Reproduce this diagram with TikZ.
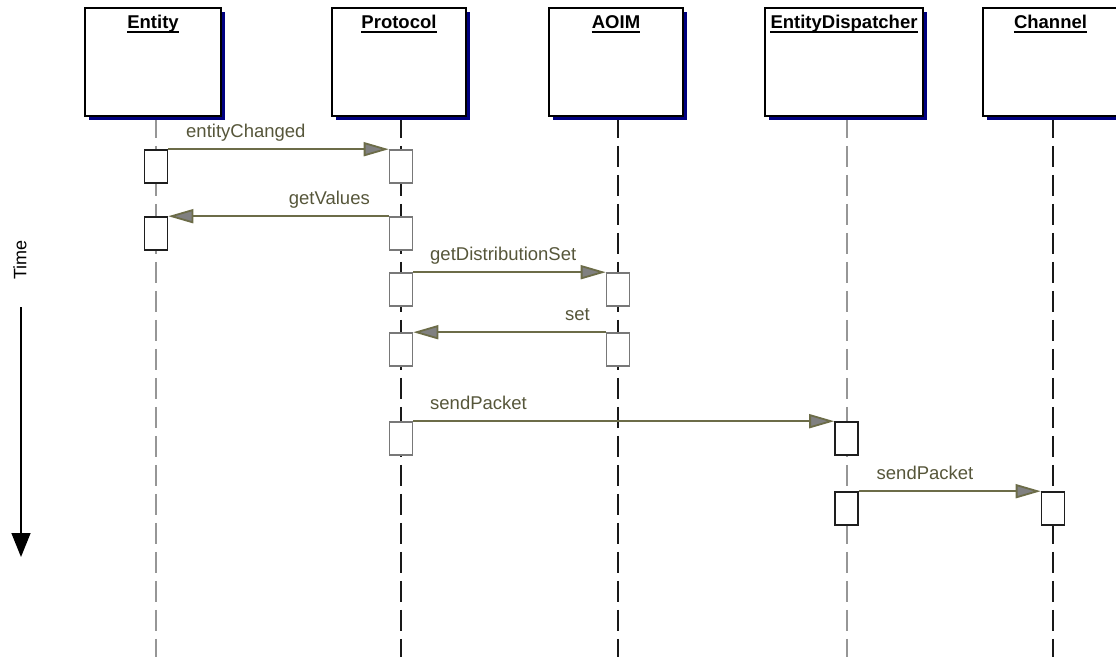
\documentclass[tikz,border=0pt]{standalone}
\usepackage{fontspec}
\setmainfont{Liberation Sans}
\usetikzlibrary{arrows.meta,shadows,backgrounds}

\definecolor{shade}{RGB}{0,0,128}
\definecolor{msgline}{RGB}{108,108,72}
\definecolor{msgtext}{RGB}{86,86,58}
\definecolor{tipfill}{RGB}{128,128,128}
\definecolor{lifegray}{RGB}{150,150,150}
\definecolor{lifedark}{RGB}{25,25,25}
\definecolor{actgray}{RGB}{120,120,120}
\definecolor{actdark}{RGB}{30,30,30}

\tikzset{
  objbox/.style={draw=black, line width=1.5pt, fill=white, minimum height=108pt, inner sep=0pt,
    drop shadow={shadow xshift=3.5pt, shadow yshift=-3.5pt, fill=shade, opacity=1}},
  objtitle/.style={inner sep=0pt, anchor=base, font=\bfseries\fontsize{18.5}{20}\selectfont},
  underbar/.style={line width=2pt},
  lifeline/.style={line width=2pt, dash pattern=on 21pt off 8pt},
  actbox/.style={fill=white, line width=1.6pt, minimum width=23pt, minimum height=33pt, inner sep=0pt},
  msg/.style={draw=msgline, line width=1.8pt, -{Triangle[length=25pt,width=14pt,fill=tipfill]}},
  lbl/.style={text=msgtext, inner sep=0pt, font=\fontsize{18.5}{20}\selectfont},
}

\begin{document}
\begin{tikzpicture}[x=1pt,y=-1pt]
\path[use as bounding box] (0,0) rectangle (1116,657);
\clip (0,0) rectangle (1116,657);

% object boxes
\node[objbox, minimum width=136pt] (oE) at (153,62) {};
\node[objbox, minimum width=134pt] (oP) at (399,62) {};
\node[objbox, minimum width=134pt] (oA) at (616,62) {};
\node[objbox, minimum width=158pt] (oD) at (844,62) {};
\node[objbox, minimum width=135pt] (oC) at (1050.5,62) {};

% underlined object names
\foreach \o/\t in {oE/Entity, oP/Protocol, oA/AOIM, oD/EntityDispatcher, oC/Channel}{
  \node[objtitle] (t\o) at ([yshift=-21pt]\o.north) {\t};
  \draw[underbar] ([yshift=-4pt]t\o.base west) -- ([yshift=-4pt]t\o.base east);
}

% lifeline ends
\coordinate (eE) at (156,657);
\coordinate (eP) at (401,657);
\coordinate (eA) at (618,657);
\coordinate (eD) at (847,657);
\coordinate (eC) at (1053,657);

\begin{scope}[on background layer]
  \draw[lifeline, lifegray] (oE.south -| eE) -- (eE);
  \draw[lifeline, lifedark] (oP.south -| eP) -- (eP);
  \draw[lifeline, lifedark] (oA.south -| eA) -- (eA);
  \draw[lifeline, lifegray] (oD.south -| eD) -- (eD);
  \draw[lifeline, lifedark] (oC.south -| eC) -- (eC);
\end{scope}

% activation boxes
\node[actbox, draw=actdark] (aE1) at (156,166.5) {};
\node[actbox, draw=actdark] (aE2) at (156,233.5) {};
\node[actbox, draw=actgray] (aP1) at (401,166.5) {};
\node[actbox, draw=actgray] (aP2) at (401,233.5) {};
\node[actbox, draw=actgray] (aP3) at (401,289.5) {};
\node[actbox, draw=actgray] (aP4) at (401,349.5) {};
\node[actbox, draw=actgray] (aP5) at (401,438.5) {};
\node[actbox, draw=actgray] (aA1) at (618,289.5) {};
\node[actbox, draw=actgray] (aA2) at (618,349.5) {};
\node[actbox, draw=actdark] (aD1) at (846.5,438.5) {};
\node[actbox, draw=actdark] (aD2) at (846.5,508.5) {};
\node[actbox, draw=actdark] (aC1) at (1053,508.5) {};

% messages
\draw[msg] (aE1.north east) -- (aP1.north west)
  node[lbl, pos=0, anchor=base west, xshift=17pt, yshift=12pt] {entityChanged};
\draw[msg] (aP2.north west) -- (aE2.north east)
  node[lbl, pos=0, anchor=base east, xshift=-18pt, yshift=12pt] {getValues};
\draw[msg] (aP3.north east) -- (aA1.north west)
  node[lbl, pos=0, anchor=base west, xshift=16pt, yshift=12pt] {getDistributionSet};
\draw[msg] (aA2.north west) -- (aP4.north east)
  node[lbl, pos=0, anchor=base east, xshift=-15pt, yshift=12pt] {set};
\draw[msg] (aP5.north east) -- (aD1.north west)
  node[lbl, pos=0, anchor=base west, xshift=16pt, yshift=12pt] {sendPacket};
\draw[msg] (aD2.north east) -- (aC1.north west)
  node[lbl, pos=0, anchor=base west, xshift=17pt, yshift=12pt] {sendPacket};

% time axis
\node[rotate=90, inner sep=0pt, font=\fontsize{18}{20}\selectfont] (time) at (20,260) {Time};
\coordinate (tTop) at (21,307);
\coordinate (tEnd) at (21,557);
\draw[line width=1.5pt, -{Triangle[length=24pt,width=19pt]}] (tTop) -- (tEnd);
\end{tikzpicture}
\end{document}
